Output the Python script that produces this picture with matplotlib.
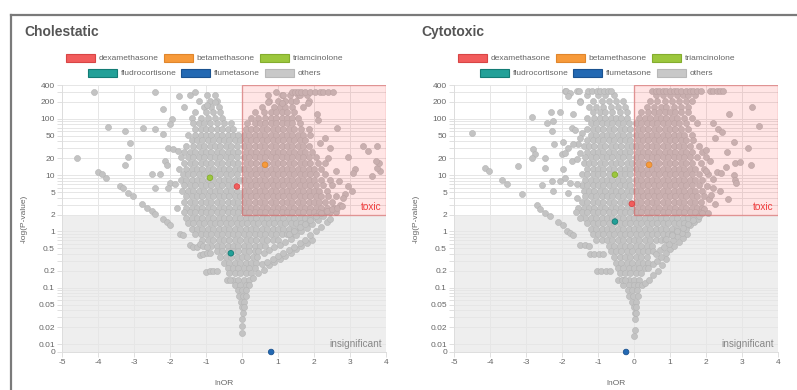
import matplotlib
matplotlib.use("Agg")
import matplotlib.pyplot as plt
from matplotlib.patches import Patch, Rectangle
from matplotlib.lines import Line2D
from matplotlib.ticker import FixedLocator, FixedFormatter

plt.rcParams["font.family"] = ["Liberation Sans", "DejaVu Sans"]
plt.rcParams["axes.unicode_minus"] = False

# ── Leyenda / fármacos destacados ──────────────────────────────────────────
drugs = ["dexamethasone", "betamethasone", "triamcinolone",
         "fludrocortisone", "flumetasone", "others"]
drug_face = ["#F25C5C", "#F79A3A", "#9CC73D", "#22A098", "#2369B3", "#C8C8C8"]
drug_edge = ["#D84545", "#E0862C", "#84AD2E", "#137C75", "#1A5290", "#B8B8B8"]

chol_hl_x = [-0.14, 0.64, -0.89, -0.31, 0.81]
chol_hl_y = [6.3, 15.3, 9.0, 0.41, 0.0]
cyto_hl_x = [-0.06, 0.42, -0.53, -0.53, -0.22]
cyto_hl_y = [3.1, 15.3, 10.2, 1.5, 0.0]

# ── Cholestatic: nube principal por filas (y, lista de lnOR) ───────────────
chol_row_y = [265, 210, 166, 132, 105, 83, 66, 52, 42, 33, 26, 21, 16.5, 13,
              10.5, 8.3, 6.6, 5.2, 4.2, 3.3, 2.65, 2.2,
              1.75, 1.4, 1.12, 0.9, 0.71, 0.56, 0.45, 0.355, 0.28, 0.22,
              0.18, 0.14, 0.11, 0.09, 0.07, 0.056, 0.045, 0.035, 0.028,
              0.021, 0.016]
chol_row_x = [
    [-1.44, -0.97, -0.75, 0.72, 1.11, 1.14, 1.33, 1.56, 1.61, 1.81],
    [-1.2, -0.9, -0.7, 0.75, 1.0, 1.2, 1.35, 1.5, 1.85],
    [-1.6, -1.05, -0.85, -0.65, 0.55, 0.9, 1.05, 1.2, 1.4, 1.7],
    [-1.3, -1.0, -0.8, -0.6, 0.35, 0.6, 0.8, 0.95, 1.1, 1.25, 1.45],
    [-1.4, -1.15, -0.95, -0.75, -0.55, 0.25, 0.45, 0.65, 0.8, 0.95, 1.1,
     1.25, 1.4, 1.55],
    [-1.35, -1.2, -1.05, -0.9, -0.7, -0.5, -0.3, 0.15, 0.35, 0.5, 0.65, 0.8,
     0.95, 1.1, 1.25, 1.4, 1.6],
    [-1.3, -1.15, -1.0, -0.85, -0.7, -0.55, -0.4, -0.25, 0.1, 0.25, 0.4,
     0.55, 0.7, 0.85, 1.0, 1.15, 1.3, 1.45, 1.65, 1.85],
    [-1.5, -1.3, -1.15, -1.0, -0.85, -0.7, -0.55, -0.4, -0.25, -0.1, 0.05,
     0.2, 0.35, 0.5, 0.65, 0.8, 0.95, 1.1, 1.25, 1.4, 1.55, 1.7, 1.9],
    [-1.4, -1.25, -1.1, -0.95, -0.8, -0.65, -0.5, -0.35, -0.2, -0.05, 0.1,
     0.25, 0.4, 0.55, 0.7, 0.85, 1.0, 1.15, 1.3, 1.45, 1.6, 1.75],
    [-1.55, -1.35, -1.2, -1.05, -0.9, -0.75, -0.6, -0.45, -0.3, -0.15, 0.05,
     0.2, 0.35, 0.5, 0.65, 0.8, 0.95, 1.1, 1.25, 1.4, 1.55, 1.7, 1.85],
    [-1.6, -1.45, -1.3, -1.15, -1.0, -0.85, -0.7, -0.55, -0.4, -0.25, -0.1,
     0.1, 0.25, 0.4, 0.55, 0.7, 0.85, 1.0, 1.15, 1.3, 1.45, 1.6, 1.75, 1.95],
    [-1.7, -1.5, -1.35, -1.2, -1.05, -0.9, -0.75, -0.6, -0.45, -0.3, -0.15,
     0.05, 0.2, 0.35, 0.5, 0.65, 0.8, 0.95, 1.1, 1.25, 1.4, 1.55, 1.7, 1.85,
     2.05],
    [-1.6, -1.45, -1.3, -1.15, -1.0, -0.85, -0.7, -0.55, -0.4, -0.25, -0.1,
     0.1, 0.25, 0.4, 0.55, 0.7, 0.85, 1.0, 1.15, 1.3, 1.45, 1.6, 1.75, 1.9,
     2.1, 2.3],
    [-1.75, -1.55, -1.4, -1.25, -1.1, -0.95, -0.8, -0.65, -0.5, -0.35, -0.2,
     -0.05, 0.05, 0.2, 0.35, 0.5, 0.65, 0.8, 0.95, 1.1, 1.25, 1.4, 1.55, 1.7,
     1.85, 2.0, 2.2],
    [-1.65, -1.5, -1.35, -1.2, -1.05, -0.9, -0.75, -0.6, -0.45, -0.3, -0.15,
     0.1, 0.25, 0.4, 0.55, 0.7, 0.85, 1.0, 1.15, 1.3, 1.45, 1.6, 1.75, 1.9,
     2.05, 2.3],
    [-1.7, -1.55, -1.4, -1.25, -1.1, -0.95, -0.8, -0.65, -0.5, -0.35, -0.2,
     -0.05, 0.05, 0.2, 0.35, 0.5, 0.65, 0.8, 0.95, 1.1, 1.25, 1.4, 1.55, 1.7,
     1.85, 2.0, 2.2, 2.45],
    [-1.6, -1.45, -1.3, -1.15, -1.0, -0.85, -0.7, -0.55, -0.4, -0.25, 0.1,
     0.25, 0.4, 0.55, 0.7, 0.85, 1.0, 1.15, 1.3, 1.45, 1.6, 1.75, 1.9, 2.05,
     2.25, 2.5],
    [-1.5, -1.35, -1.2, -1.05, -0.9, -0.75, -0.6, -0.45, -0.3, -0.15, 0.05,
     0.2, 0.35, 0.5, 0.65, 0.8, 0.95, 1.1, 1.25, 1.4, 1.55, 1.7, 1.85, 2.0,
     2.15, 2.35],
    [-1.55, -1.4, -1.25, -1.1, -0.95, -0.8, -0.65, -0.5, -0.35, -0.2, -0.05,
     0.1, 0.25, 0.4, 0.55, 0.7, 0.85, 1.0, 1.15, 1.3, 1.45, 1.6, 1.75, 1.9,
     2.05, 2.2, 2.4, 2.6],
    [-1.6, -1.45, -1.3, -1.15, -1.0, -0.85, -0.7, -0.55, -0.4, -0.25, -0.1,
     0.05, 0.2, 0.35, 0.5, 0.65, 0.8, 0.95, 1.1, 1.25, 1.4, 1.55, 1.7, 1.85,
     2.0, 2.15, 2.3, 2.5],
    [-1.55, -1.4, -1.25, -1.1, -0.95, -0.8, -0.65, -0.5, -0.35, -0.2, -0.05,
     0.1, 0.25, 0.4, 0.55, 0.7, 0.85, 1.0, 1.15, 1.3, 1.45, 1.6, 1.75, 1.9,
     2.05, 2.2, 2.35, 2.55],
    [-1.6, -1.45, -1.3, -1.15, -1.0, -0.85, -0.7, -0.55, -0.4, -0.25, -0.1,
     0.05, 0.2, 0.35, 0.5, 0.65, 0.8, 0.95, 1.1, 1.25, 1.4, 1.55, 1.7, 1.85,
     2.0, 2.15, 2.3, 2.45, 2.6],
    [-1.55, -1.4, -1.25, -1.1, -0.95, -0.8, -0.65, -0.5, -0.35, -0.2, -0.05,
     0.1, 0.25, 0.4, 0.55, 0.7, 0.85, 1.0, 1.15, 1.3, 1.45, 1.6, 1.75, 1.9,
     2.05],
    [-1.5, -1.35, -1.2, -1.05, -0.9, -0.75, -0.6, -0.45, -0.3, -0.15, 0.0,
     0.15, 0.3, 0.45, 0.6, 0.75, 0.9, 1.05, 1.2, 1.35, 1.5, 1.65, 1.8],
    [-1.4, -1.25, -1.1, -0.95, -0.8, -0.65, -0.5, -0.35, -0.2, -0.05, 0.1,
     0.25, 0.4, 0.55, 0.7, 0.85, 1.0, 1.15, 1.3, 1.45, 1.6],
    [-1.3, -1.15, -1.0, -0.85, -0.7, -0.55, -0.4, -0.25, -0.1, 0.05, 0.2,
     0.35, 0.5, 0.65, 0.8, 0.95, 1.1, 1.25, 1.4],
    [-1.1, -0.95, -0.8, -0.65, -0.5, -0.35, -0.2, -0.05, 0.1, 0.25, 0.4,
     0.55, 0.7, 0.85, 1.0],
    [-0.85, -0.7, -0.55, -0.4, -0.25, -0.1, 0.05, 0.2, 0.35, 0.5, 0.65],
    [-0.7, -0.55, -0.4, -0.25, -0.1, 0.05, 0.2, 0.35, 0.45],
    [-0.6, -0.45, -0.3, -0.15, 0.0, 0.15, 0.3, 0.42],
    [-0.5, -0.35, -0.2, -0.05, 0.1, 0.25, 0.4],
    [-0.4, -0.25, -0.1, 0.05, 0.2, 0.35],
    [-0.35, -0.2, -0.05, 0.1, 0.25],
    [-0.25, -0.1, 0.05, 0.2],
    [-0.2, -0.05, 0.1, 0.2],
    [-0.12, 0.0, 0.12],
    [-0.08, 0.04, 0.12],
    [-0.04, 0.06],
    [0.0, 0.05],
    [0.02],
    [0.0],
    [0.0],
    [0.0],
]
# puntos sueltos, brazos y fila superior (lnOR, -log(P))
chol_extra = [
    (-4.11, 300), (-2.42, 300), (-1.31, 300), (0.94, 300), (1.39, 300),
    (1.47, 300), (1.56, 300), (1.65, 300), (1.75, 300), (1.9, 300),
    (2.03, 300), (2.17, 300), (2.25, 300), (2.39, 300), (2.53, 300),
    (-1.75, 255), (-2.19, 150), (-0.75, 200), (-0.97, 178), (-3.72, 72),
    (-3.25, 61), (-2.75, 69), (-2.42, 66), (-3.11, 38), (-2.19, 54),
    (-1.94, 100), (-2.0, 81), (-4.58, 20), (-3.17, 21), (-3.25, 15),
    (-2.5, 10.6), (-2.28, 10.6), (-2.06, 30.6), (-1.92, 29.4), (-1.78, 27),
    (-2.14, 18), (-2.08, 15), (-2.0, 7.4), (-2.42, 5.8), (-2.06, 5.8),
    (-1.86, 7.1), (-1.67, 5.3), (-1.81, 2.66),
    (-4.0, 11.5), (-3.89, 10.6), (-3.78, 9.0), (-3.39, 6.3), (-3.31, 5.8),
    (-3.17, 4.9), (-3.03, 4.2), (-2.78, 3.1), (-2.64, 2.66), (-2.5, 2.35),
    (-2.42, 2.08), (-2.19, 1.7), (-2.08, 1.45), (-2.0, 1.28), (-1.72, 0.92),
    (-1.64, 0.85), (-1.44, 0.57), (-1.36, 0.54), (-1.25, 0.54),
    (-1.17, 0.38), (-1.08, 0.39), (-0.97, 0.41), (-0.88, 0.42),
    (-1.17, 0.6), (-1.07, 0.56), (-0.97, 0.52),
    (-1.0, 0.19), (-0.9, 0.2), (-0.8, 0.2), (-0.7, 0.2),
    (-0.42, 0.14), (-0.33, 0.14),
    (2.64, 69), (2.17, 38), (3.36, 33), (3.5, 27), (3.75, 33), (2.94, 21),
    (3.14, 13), (3.08, 11), (3.83, 12), (3.75, 13.5), (3.6, 9.8), (2.94, 6.3),
    (3.06, 5.3), (2.86, 4.7), (2.72, 2.9), (2.08, 122), (2.11, 96),
    (1.11, 192), (0.72, 200), (1.83, 192), (3.8, 16.6), (3.72, 18),
    (2.45, 30), (2.3, 45), (2.6, 12), (2.7, 8), (2.8, 4), (2.4, 20),
    (0.3, 0.15), (0.45, 0.18), (0.6, 0.21), (0.75, 0.25), (0.9, 0.29),
    (1.05, 0.32), (1.2, 0.37), (1.35, 0.42), (1.5, 0.48), (1.65, 0.55),
    (1.8, 0.63), (1.94, 0.72),
    (0.55, 0.26), (0.7, 0.29), (0.85, 0.33), (1.0, 0.37), (1.15, 0.42),
    (1.3, 0.47), (1.45, 0.53), (1.6, 0.62), (1.75, 0.72), (1.9, 0.85),
    (2.05, 1.0), (2.2, 1.2), (2.35, 1.45), (2.44, 1.7),
    (0.6, 0.42), (0.75, 0.47), (0.9, 0.52), (1.05, 0.58), (1.2, 0.65),
    (1.35, 0.75), (1.5, 0.87), (1.65, 1.0), (1.8, 1.17), (1.95, 1.37),
    (2.1, 1.6), (2.25, 1.85),
    (1.3, 0.9), (1.45, 1.02), (1.6, 1.18), (1.75, 1.38), (1.9, 1.6),
    (2.05, 1.85), (2.2, 2.1), (2.35, 2.3), (2.5, 2.5), (2.65, 2.65),
    (2.78, 2.8),
]

# ── Cytotoxic ───────────────────────────────────────────────────────────────
cyto_row_y = chol_row_y[:-2] + [0.018, 0.014]
cyto_row_x = [
    [-1.3, -1.0, -0.8, -0.55, 0.6, 0.8, 1.0, 1.2, 1.35, 1.5, 1.7],
    [-1.5, -1.15, -0.9, -0.7, -0.5, -0.3, 0.45, 0.65, 0.85, 1.05, 1.25, 1.45,
     1.6],
    [-1.25, -1.05, -0.85, -0.65, -0.45, -0.25, 0.35, 0.55, 0.75, 0.9, 1.1,
     1.3, 1.5],
    [-1.15, -0.95, -0.8, -0.6, -0.4, -0.2, 0.2, 0.4, 0.55, 0.7, 0.85, 1.0,
     1.15, 1.3, 1.5],
    [-1.3, -1.1, -0.95, -0.8, -0.65, -0.5, -0.35, -0.2, 0.15, 0.3, 0.45, 0.6,
     0.75, 0.9, 1.05, 1.2, 1.4, 1.6],
    [-1.2, -1.05, -0.9, -0.75, -0.6, -0.45, -0.3, -0.15, 0.05, 0.2, 0.35,
     0.5, 0.65, 0.8, 0.95, 1.1, 1.25, 1.45, 1.75],
    [-1.3, -1.15, -1.0, -0.85, -0.7, -0.55, -0.4, -0.25, -0.1, 0.1, 0.25,
     0.4, 0.55, 0.7, 0.85, 1.0, 1.15, 1.3, 1.5],
    [-1.2, -1.05, -0.9, -0.75, -0.6, -0.45, -0.3, -0.15, 0.05, 0.2, 0.35,
     0.5, 0.65, 0.8, 0.95, 1.1, 1.25, 1.4, 1.6],
    [-1.3, -1.15, -1.0, -0.85, -0.7, -0.55, -0.4, -0.25, -0.1, 0.1, 0.25,
     0.4, 0.55, 0.7, 0.85, 1.0, 1.15, 1.3, 1.45, 1.65],
    [-1.4, -1.25, -1.1, -0.95, -0.8, -0.65, -0.5, -0.35, -0.2, -0.05, 0.05,
     0.2, 0.35, 0.5, 0.65, 0.8, 0.95, 1.1, 1.25, 1.4, 1.55, 1.8],
    [-1.3, -1.15, -1.0, -0.85, -0.7, -0.55, -0.4, -0.25, -0.1, 0.1, 0.25,
     0.4, 0.55, 0.7, 0.85, 1.0, 1.15, 1.3, 1.45, 1.6, 1.9],
    [-1.35, -1.2, -1.05, -0.9, -0.75, -0.6, -0.45, -0.3, -0.15, 0.05, 0.2,
     0.35, 0.5, 0.65, 0.8, 0.95, 1.1, 1.25, 1.4, 1.55, 1.75, 2.0],
    [-1.4, -1.25, -1.1, -0.95, -0.8, -0.65, -0.5, -0.35, -0.2, -0.05, 0.1,
     0.25, 0.4, 0.55, 0.7, 0.85, 1.0, 1.15, 1.3, 1.45, 1.6, 1.85],
    [-1.3, -1.15, -1.0, -0.85, -0.7, -0.55, -0.4, -0.25, -0.1, 0.05, 0.2,
     0.35, 0.5, 0.65, 0.8, 0.95, 1.1, 1.25, 1.4, 1.55, 1.7, 1.95],
    [-1.45, -1.3, -1.15, -1.0, -0.85, -0.7, -0.55, -0.4, -0.25, -0.1, 0.1,
     0.25, 0.4, 0.55, 0.7, 0.85, 1.0, 1.15, 1.3, 1.45, 1.6, 1.8, 2.05],
    [-1.35, -1.2, -1.05, -0.9, -0.75, -0.6, -0.45, -0.3, -0.15, 0.05, 0.2,
     0.35, 0.5, 0.65, 0.8, 0.95, 1.1, 1.25, 1.4, 1.55, 1.7, 1.9],
    [-1.45, -1.3, -1.15, -1.0, -0.85, -0.7, -0.55, -0.4, -0.25, -0.1, 0.1,
     0.25, 0.4, 0.55, 0.7, 0.85, 1.0, 1.15, 1.3, 1.45, 1.6, 1.8],
    [-1.4, -1.25, -1.1, -0.95, -0.8, -0.65, -0.5, -0.35, -0.2, -0.05, 0.05,
     0.2, 0.35, 0.5, 0.65, 0.8, 0.95, 1.1, 1.25, 1.4, 1.55, 1.7, 1.9],
    [-1.35, -1.2, -1.05, -0.9, -0.75, -0.6, -0.45, -0.3, -0.15, 0.1, 0.25,
     0.4, 0.55, 0.7, 0.85, 1.0, 1.15, 1.3, 1.45, 1.6, 1.75, 1.95],
    [-1.45, -1.3, -1.15, -1.0, -0.85, -0.7, -0.55, -0.4, -0.25, -0.1, 0.05,
     0.2, 0.35, 0.5, 0.65, 0.8, 0.95, 1.1, 1.25, 1.4, 1.55, 1.7, 1.85],
    [-1.55, -1.4, -1.25, -1.1, -0.95, -0.8, -0.65, -0.5, -0.35, -0.2, -0.05,
     0.1, 0.25, 0.4, 0.55, 0.7, 0.85, 1.0, 1.15, 1.3, 1.45, 1.6, 1.75, 1.9],
    [-1.6, -1.45, -1.3, -1.15, -1.0, -0.85, -0.7, -0.55, -0.4, -0.25, -0.1,
     0.05, 0.2, 0.35, 0.5, 0.65, 0.8, 0.95, 1.1, 1.25, 1.4, 1.55, 1.7, 1.85],
    [-1.35, -1.2, -1.05, -0.9, -0.75, -0.6, -0.45, -0.3, -0.15, 0.0, 0.15,
     0.3, 0.45, 0.6, 0.75, 0.9, 1.05, 1.2, 1.35, 1.5, 1.65],
    [-1.3, -1.15, -1.0, -0.85, -0.7, -0.55, -0.4, -0.25, -0.1, 0.05, 0.2,
     0.35, 0.5, 0.65, 0.8, 0.95, 1.1, 1.25, 1.4],
    [-1.2, -1.05, -0.9, -0.75, -0.6, -0.45, -0.3, -0.15, 0.0, 0.15, 0.3,
     0.45, 0.6, 0.75, 0.9, 1.05, 1.2],
    [-1.15, -1.0, -0.85, -0.7, -0.55, -0.4, -0.25, -0.1, 0.05, 0.2, 0.35,
     0.5, 0.65, 0.8, 0.95, 1.05],
    [-1.05, -0.9, -0.75, -0.6, -0.45, -0.3, -0.15, 0.0, 0.15, 0.3, 0.45,
     0.6, 0.75, 0.85],
    [-0.7, -0.55, -0.4, -0.25, -0.1, 0.05, 0.2, 0.35, 0.5],
    [-0.65, -0.5, -0.35, -0.2, -0.05, 0.1, 0.25, 0.4, 0.52],
    [-0.55, -0.4, -0.25, -0.1, 0.05, 0.2, 0.35],
    [-0.5, -0.35, -0.2, -0.05, 0.1, 0.25, 0.38],
    [-0.45, -0.3, -0.15, 0.0, 0.15, 0.3],
    [-0.4, -0.25, -0.1, 0.05, 0.2],
    [-0.3, -0.15, 0.0, 0.15],
    [-0.3, -0.15, 0.0, 0.12, 0.22],
    [-0.18, -0.05, 0.08],
    [-0.15, -0.02, 0.1],
    [-0.05, 0.06],
    [0.0, 0.05],
    [0.02, 0.06],
    [0.03],
    [0.02],
    [0.01],
]
cyto_extra = [
    (-1.92, 310), (-1.89, 310), (-1.78, 290), (-1.58, 310), (-1.53, 310),
    (-1.28, 310), (-1.17, 310), (-1.03, 310), (-0.94, 310), (-0.83, 310),
    (-0.72, 310), (-0.64, 310), (0.5, 310), (0.6, 310), (0.7, 310),
    (0.8, 310), (0.9, 310), (1.0, 310), (1.1, 310), (1.2, 310), (1.3, 310),
    (1.45, 310), (1.55, 310), (1.65, 310), (1.75, 310), (1.85, 310),
    (2.11, 310), (2.2, 310), (2.3, 310), (2.4, 310), (2.47, 310),
    (-1.83, 255), (-1.5, 200), (-4.5, 56), (-4.14, 13.5), (-4.03, 12),
    (-3.67, 8.3), (-3.53, 7.1), (-3.11, 4.7), (-3.22, 14.7), (-2.83, 108),
    (-2.8, 29), (-2.75, 24), (-2.83, 20), (-2.47, 20), (-2.47, 13.5),
    (-2.31, 133), (-2.06, 133), (-2.42, 85), (-2.25, 92), (-2.28, 61),
    (-2.22, 36), (-1.97, 39), (-1.83, 31), (-2.56, 6.8), (-2.28, 8),
    (-2.25, 5.3), (-2.06, 8), (-1.97, 13), (-2.0, 24), (-1.92, 25),
    (-1.69, 122), (-1.72, 69), (-1.64, 64), (-1.44, 57), (-1.5, 46),
    (-1.56, 36), (-1.69, 36), (-1.72, 18), (-1.58, 19.6), (-1.5, 25),
    (-1.92, 9), (-1.78, 7.4), (-1.58, 7.1), (-1.83, 4.9), (-1.58, 4.0),
    (-1.5, 1.77),
    (-2.69, 2.9), (-2.61, 2.55), (-2.47, 2.17), (-2.33, 1.92), (-2.1, 1.5),
    (-1.97, 1.28), (-1.86, 1.04), (-1.78, 0.95), (-1.69, 0.85), (-1.5, 0.57),
    (-1.36, 0.57), (-1.25, 0.55), (-1.22, 0.4), (-1.1, 0.4), (-0.98, 0.4),
    (-0.86, 0.4), (-1.03, 0.2), (-0.91, 0.2), (-0.79, 0.2), (-0.67, 0.2),
    (-0.44, 0.14), (-0.34, 0.14), (-0.25, 0.14),
    (3.28, 162), (3.47, 75), (2.64, 122), (2.19, 85), (2.33, 66), (2.44, 59),
    (2.25, 46), (2.78, 39), (2.58, 26), (3.17, 30), (2.81, 16.6), (2.94, 17),
    (3.25, 15.3), (2.56, 14), (2.31, 11.5), (2.42, 11), (2.78, 10.2),
    (2.81, 8.3), (2.83, 7.4), (2.03, 6.5), (2.19, 6.0), (2.39, 5.3),
    (2.61, 3.8), (2.08, 3.8), (2.25, 3.1), (2.0, 28), (2.1, 18), (2.0, 12),
    (2.2, 8.5), (2.15, 4.5), (1.95, 2.5), (2.05, 2.1),
    (0.3, 0.12), (0.42, 0.14), (0.54, 0.17), (0.66, 0.2), (0.78, 0.25),
    (0.9, 0.33),
    (0.4, 0.22), (0.52, 0.26), (0.64, 0.3), (0.76, 0.35), (0.88, 0.41),
    (1.0, 0.48), (1.12, 0.56), (1.24, 0.66), (1.36, 0.78), (1.47, 0.92),
    (0.6, 0.4), (0.72, 0.46), (0.84, 0.53), (0.96, 0.61), (1.08, 0.7),
    (1.2, 0.82), (1.32, 0.95), (1.44, 1.1), (1.56, 1.28), (1.68, 1.5),
    (1.78, 1.7),
    (0.9, 0.75), (1.05, 0.85), (1.2, 1.0), (1.35, 1.15), (1.5, 1.35),
    (1.65, 1.6), (1.8, 1.9), (1.9, 2.1),
]

# ── Ejes ────────────────────────────────────────────────────────────────────
x_ticks = [-5, -4, -3, -2, -1, 0, 1, 2, 3, 4]
y_ticks = [0, 0.01, 0.02, 0.05, 0.1, 0.2, 0.5, 1, 2, 5, 10, 20, 50, 100, 200, 400]
y_labels = ["0", "0.01", "0.02", "0.05", "0.1", "0.2", "0.5", "1", "2", "5",
            "10", "20", "50", "100", "200", "400"]
y_minor = [0.03, 0.04, 0.06, 0.07, 0.08, 0.09, 0.3, 0.4, 0.6, 0.7, 0.8, 0.9,
           3, 4, 6, 7, 8, 9, 30, 40, 60, 70, 80, 90, 300]

W, H = 797, 390
TXT = "#666666"
GRID = "#E6E6E6"


def flatten(row_y, row_x, extra):
    xs, ys = [], []
    for y, row in zip(row_y, row_x):
        xs += row
        ys += [y] * len(row)
    for x, y in extra:
        xs.append(x)
        ys.append(y)
    return xs, ys


def draw_panel(ax, row_y, row_x, extra, hl_x, hl_y):
    xs, ys = flatten(row_y, row_x, extra)

    ax.set_yscale("symlog", linthresh=0.01, linscale=0.127)
    ax.set_xlim(-5, 4)
    ax.set_ylim(0, 400)

    # zona insignificante
    ax.add_patch(Rectangle((-5, 0), 9, 2, facecolor="#EEEEEE",
                           edgecolor="none", zorder=0.2))
    ax.scatter(xs, ys, s=19, c="#C3C3C3", edgecolors="#B4B4B4",
               linewidths=0.4, zorder=2)
    # zona tóxica (encima de los puntos, translúcida)
    ax.add_patch(Rectangle((0, 2), 4, 398, facecolor=(1, 0, 0, 0.1),
                           edgecolor=(0.85, 0.3, 0.3, 0.5), lw=1, zorder=3))
    ax.scatter(hl_x, hl_y, s=16, c=drug_face[:5], edgecolors=drug_edge[:5],
               linewidths=0.6, zorder=4, clip_on=False)

    ax.annotate("toxic", xy=(4, 2), xytext=(-3, 2), textcoords="offset points",
                ha="right", va="bottom", color="#F03C3C", fontsize=7.2,
                zorder=5)
    ax.annotate("insignificant", xy=(4, 0), xytext=(-3, 2.5),
                textcoords="offset points", ha="right", va="bottom",
                color="#888888", fontsize=7.2, zorder=5)

    ax.xaxis.set_major_locator(FixedLocator(x_ticks))
    ax.yaxis.set_major_locator(FixedLocator(y_ticks))
    ax.yaxis.set_major_formatter(FixedFormatter(y_labels))
    ax.yaxis.set_minor_locator(FixedLocator(y_minor))
    ax.set_axisbelow(True)
    ax.grid(True, which="both", color=GRID, lw=0.7)
    ax.tick_params(which="both", length=3.6, width=0.7, color="#E0E0E0",
                   labelsize=6, labelcolor=TXT, pad=1.5)
    for side in ["top", "right"]:
        ax.spines[side].set_visible(False)
    for side in ["left", "bottom"]:
        ax.spines[side].set_color("#DDDDDD")
        ax.spines[side].set_linewidth(0.7)

    ax.set_xlabel("lnOR", fontsize=6, color=TXT)
    ax.set_ylabel("-log(P-value)", fontsize=6, color=TXT)
    ax.xaxis.set_label_coords(0.5, -0.105)
    ax.yaxis.set_label_coords(-0.105, 0.5)


fig = plt.figure(figsize=(W / 100, H / 100), dpi=100)
fig.patch.set_facecolor("white")

ax_w, ax_h = 324 / W, (352 - 85) / H
ax_b = 1 - 352 / H
panels = [
    ("Cholestatic", 62, 24, chol_row_y, chol_row_x, chol_extra, chol_hl_x, chol_hl_y),
    ("Cytotoxic", 454, 421, cyto_row_y, cyto_row_x, cyto_extra, cyto_hl_x, cyto_hl_y),
]

handles = [Patch(facecolor=f, edgecolor=e, linewidth=0.8, label=n)
           for n, f, e in zip(drugs, drug_face, drug_edge)]

for title, left_px, title_px, ry, rx, ex, hx, hy in panels:
    ax = fig.add_axes([left_px / W, ax_b, ax_w, ax_h])
    draw_panel(ax, ry, rx, ex, hx, hy)
    fig.text(title_px / W, 1 - 32 / H, title, ha="left", va="center",
             fontsize=10, fontweight="bold", color="#555555")

    cx = (left_px + 142.5) / W
    for row, y_px in [(handles[:3], 58), (handles[3:], 73)]:
        fig.legend(handles=row, loc="center", bbox_to_anchor=(cx, 1 - y_px / H),
                   ncol=3, frameon=False, fontsize=6, labelcolor=TXT,
                   handlelength=3.5, handleheight=1.1, handletextpad=0.45,
                   columnspacing=0.6, borderpad=0, borderaxespad=0)

# marco de la tarjeta (captura)
fig.add_artist(Line2D([11 / W, 1], [1 - 15 / H, 1 - 15 / H],
                      transform=fig.transFigure, color="#7A7A7A", lw=1.6))
fig.add_artist(Line2D([11 / W, 11 / W], [0, 1 - 15 / H],
                      transform=fig.transFigure, color="#7A7A7A", lw=1.6))

fig.savefig("out.png", dpi=100, facecolor="white")
